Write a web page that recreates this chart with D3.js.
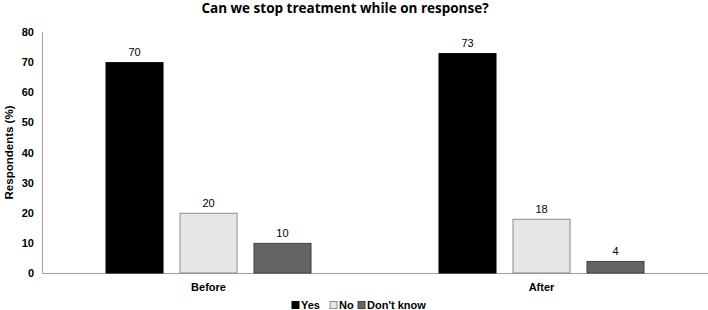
<!DOCTYPE html>
<html>
<head>
<meta charset="utf-8">
<script src="https://cdn.jsdelivr.net/npm/d3@7"></script>
<style>
  body { margin: 0; background: #fff; }
  svg { display: block; font-family: "Liberation Sans", Arial, sans-serif; }
</style>
</head>
<body>
<div id="chart"></div>
<script>
// Données
const categories = ["Before", "After"];
const seriesNames = ["Yes", "No", "Don't know"];
const yesValues = [70, 73];
const noValues = [20, 18];
const dontKnowValues = [10, 4];
const yTicks = [0, 10, 20, 30, 40, 50, 60, 70, 80];

const seriesValues = [yesValues, noValues, dontKnowValues];
const fills = ["#000000", "#e6e6e6", "#646464"];
const strokes = ["#000000", "#8c8c8c", "#404040"];

const W = 708, H = 310;
const margin = { top: 32, right: 0, bottom: 37, left: 42 };
const width = W - margin.left - margin.right;
const height = H - margin.top - margin.bottom;

const svg = d3.select("#chart").append("svg")
    .attr("width", W)
    .attr("height", H);

// Titre
svg.append("text")
    .attr("x", 345)
    .attr("y", 13)
    .attr("text-anchor", "middle")
    .style("font-family", "'Open Sans', sans-serif")
    .style("font-size", "13.5px")
    .style("font-weight", "bold")
    .text("Can we stop treatment while on response?");

const g = svg.append("g")
    .attr("transform", `translate(${margin.left},${margin.top})`);

// Échelles
const x0 = d3.scaleBand().domain(categories).range([0, width]).padding(0);
const x1 = d3.scaleBand().domain(seriesNames)
    .range([63.5, x0.bandwidth() - 63.5])
    .paddingInner(0.216);
const y = d3.scaleLinear().domain([0, 80]).range([height, 0]);

// Axe Y
g.append("g")
    .call(d3.axisLeft(y).tickValues(yTicks).tickSize(0).tickPadding(8))
    .call(a => a.select(".domain").attr("stroke", "#a0a0a0"))
    .selectAll("text")
    .style("font-size", "11px")
    .style("font-weight", "bold")
    .style("fill", "#000");

// Axe X
g.append("g")
    .attr("transform", `translate(0,${height})`)
    .call(d3.axisBottom(x0).tickSize(0).tickPadding(10))
    .call(a => a.select(".domain").attr("stroke", "#a0a0a0"))
    .selectAll("text")
    .style("font-size", "11px")
    .style("font-weight", "bold")
    .style("fill", "#000");

// Titre de l'axe Y
svg.append("text")
    .attr("transform", `translate(13,${margin.top + height / 2}) rotate(-90)`)
    .attr("text-anchor", "middle")
    .style("font-size", "11.5px")
    .style("font-weight", "bold")
    .text("Respondents (%)");

// Barres
const groups = g.selectAll(".grp")
    .data(categories)
    .enter().append("g")
    .attr("class", "grp")
    .attr("transform", d => `translate(${x0(d)},0)`);

groups.selectAll("rect")
    .data((c, ci) => seriesNames.map((s, si) => ({ s, si, v: seriesValues[si][ci] })))
    .enter().append("rect")
    .attr("x", d => x1(d.s) + 0.5)
    .attr("y", d => y(d.v) + 0.5)
    .attr("width", x1.bandwidth() - 1)
    .attr("height", d => height - y(d.v) - 0.5)
    .attr("fill", d => fills[d.si])
    .attr("stroke", d => strokes[d.si])
    .attr("stroke-width", 1);

// Étiquettes de valeurs
groups.selectAll(".lbl")
    .data((c, ci) => seriesNames.map((s, si) => ({ s, si, v: seriesValues[si][ci] })))
    .enter().append("text")
    .attr("class", "lbl")
    .attr("x", d => x1(d.s) + x1.bandwidth() / 2)
    .attr("y", d => y(d.v) - 6)
    .attr("text-anchor", "middle")
    .style("font-size", "11px")
    .text(d => d.v);

// Légende
const legendX = [292, 330, 358];
const legend = svg.append("g").attr("transform", "translate(0,305)");
seriesNames.forEach((s, i) => {
    legend.append("rect")
        .attr("x", legendX[i])
        .attr("y", -3.5)
        .attr("width", 7)
        .attr("height", 7)
        .attr("fill", fills[i])
        .attr("stroke", strokes[i]);
    legend.append("text")
        .attr("x", legendX[i] + 9)
        .attr("y", 4)
        .style("font-size", "11px")
        .style("font-weight", "bold")
        .text(s);
});
</script>
</body>
</html>
